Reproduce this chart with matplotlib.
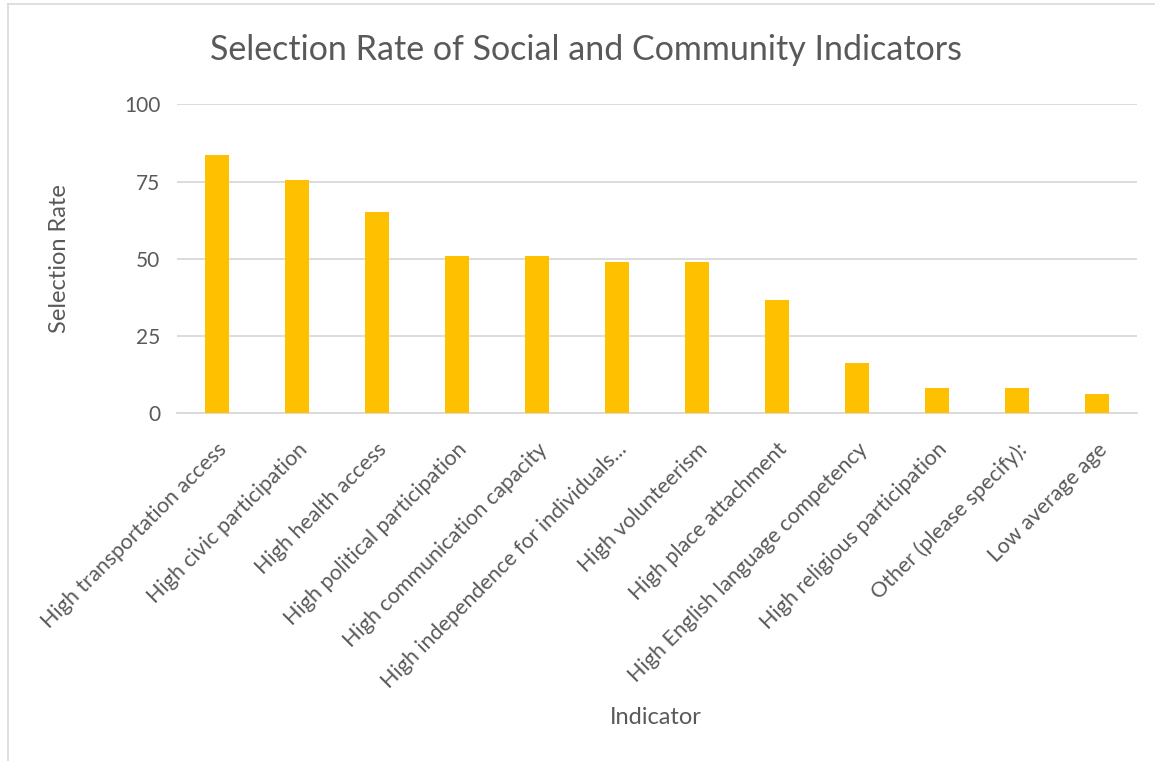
import matplotlib.pyplot as plt
from matplotlib.lines import Line2D

plt.rcParams['font.family'] = ['Lato', 'DejaVu Sans']

# Data
indicators = [
    "High transportation access",
    "High civic participation",
    "High health access",
    "High political participation",
    "High communication capacity",
    "High independence for individuals...",
    "High volunteerism",
    "High place attachment",
    "High English language competency",
    "High religious participation",
    "Other (please specify):",
    "Low average age",
]
selection_rate = [83.7, 75.5, 65.3, 51.0, 51.0, 49.0, 49.0, 36.7, 16.3, 8.2, 8.2, 6.1]
y_ticks = [0, 25, 50, 75, 100]

text_color = '#595959'
grid_color = '#d9d9d9'

fig = plt.figure(figsize=(11.55, 7.61), dpi=100)
ax = fig.add_axes([0.1532, 0.4573, 0.8312, 0.4054])

x = range(len(indicators))
ax.bar(x, selection_rate, width=0.31, color='#FFC000', zorder=3)

ax.set_xlim(-0.5, len(indicators) - 0.5)
ax.set_ylim(0, 100)
ax.set_yticks(y_ticks)
ax.set_yticklabels([str(t) for t in y_ticks], fontsize=15, color=text_color)
ax.set_xticks(list(x))
ax.set_xticklabels(indicators, rotation=45, ha='right', rotation_mode='anchor',
                   fontsize=15.5, color=text_color)
ax.tick_params(axis='both', length=0)
ax.tick_params(axis='y', pad=12)
ax.tick_params(axis='x', pad=19)

ax.grid(axis='y', color=grid_color, linewidth=1.3, zorder=0)
for side in ['top', 'right', 'left']:
    ax.spines[side].set_visible(False)
ax.spines['bottom'].set_color(grid_color)
ax.spines['bottom'].set_linewidth(1.3)

fig.text(60 / 1155, 1 - 259 / 761, 'Selection Rate', fontsize=17, color=text_color,
         ha='center', va='center', rotation=90)
fig.text(656 / 1155, 1 - 717 / 761, 'Indicator', fontsize=17, color=text_color,
         ha='center', va='center')
fig.text(586 / 1155, 1 - 50 / 761, 'Selection Rate of Social and Community Indicators',
         fontsize=24.5, color=text_color, ha='center', va='center')

# Chart area border (top and left edges visible)
fig.add_artist(Line2D([8 / 1155, 8 / 1155], [0, 1 - 4 / 761], transform=fig.transFigure,
                      color=grid_color, linewidth=1.2))
fig.add_artist(Line2D([8 / 1155, 1], [1 - 4 / 761, 1 - 4 / 761], transform=fig.transFigure,
                      color=grid_color, linewidth=1.2))

plt.savefig('out.png', dpi=100)
